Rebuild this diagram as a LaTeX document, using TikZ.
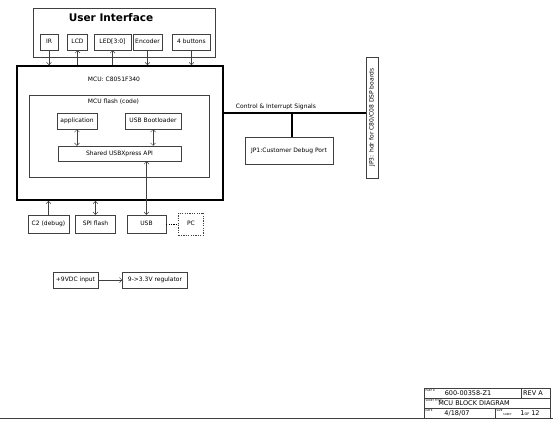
\documentclass[tikz,border=0pt]{standalone}
\usepackage{fontspec}
\setmainfont{DejaVu Sans}
\usetikzlibrary{positioning,arrows.meta}
\tikzset{
    blkframe/.style={draw=black!75, line width=0.5pt},
    blkbox/.style={draw=black!75, line width=0.5pt, inner sep=1pt, minimum height=16pt, text height=4.5pt, text depth=1.2pt, align=center, font=\fontsize{6}{7}\selectfont},
    blkpc/.style={blkbox, dash pattern=on 1.2pt off 1.2pt},
    blkmcu/.style={draw, line width=1.6pt},
    blklabel/.style={inner sep=0pt, font=\fontsize{6}{7}\selectfont},
    blktiny/.style={inner sep=0pt, anchor=north west, font=\fontsize{2.6}{3}\selectfont},
    blkcell/.style={inner sep=0pt, font=\fontsize{6.5}{8}\selectfont},
    blkarrow/.style={draw=black!75, line width=0.5pt, -{Straight Barb[length=2.5pt,width=5pt]}},
    blkboth/.style={draw=black!75, line width=0.5pt, {Straight Barb[length=2.5pt,width=5pt]}-{Straight Barb[length=2.5pt,width=5pt]}},
    blkbus/.style={draw, line width=1.4pt},
    blklink/.style={draw, line width=0.5pt, dash pattern=on 1.2pt off 1.2pt}
}
\begin{document}
\begin{tikzpicture}[x=1pt, y=-1pt]
    \useasboundingbox (0,0) rectangle (553,420);

    \node[blkframe, minimum width=182pt, minimum height=49pt] (ui) at (124,32.5) {};
    \node[font=\fontsize{10.5}{12}\selectfont\bfseries, inner sep=0pt] (uititle) at (111,18) {User Interface};
    \node[blkbox, minimum width=18pt] (ir) at (49,42) {IR};
    \node[blkbox, minimum width=20pt, right=9pt of ir] (lcd) {LCD};
    \node[blkbox, minimum width=37pt, right=6pt of lcd] (led) {LED[3:0]};
    \node[blkbox, minimum width=29pt, right=1.5pt of led] (enc) {Encoder};
    \node[blkbox, minimum width=38pt, right=10pt of enc] (btn) {4 buttons};

    \node[blkmcu, minimum width=206pt, minimum height=134pt] (mcu) at (120,133) {};
    \node[blklabel] (mculbl) at (114,79) {MCU: C8051F340};
    \node[blkframe, minimum width=180pt, minimum height=82pt] (flash) at (119,136) {};
    \node[blklabel] (flashlbl) at (113.5,102) {MCU flash (code)};
    \node[blkbox, minimum width=40pt] (app) at (77,121) {application};
    \node[blkbox, minimum width=56pt] (boot) at (153,121) {USB Bootloader};
    \node[blkbox, minimum width=123pt, minimum height=15pt] (api) at (119.5,153.5) {Shared USBXpress API};

    \node[blkbox, minimum width=41pt, minimum height=18pt] (c2) at (48.5,224) {C2 (debug)};
    \node[blkbox, minimum width=40pt, minimum height=18pt, right=6pt of c2] (spi) {SPI flash};
    \node[blkbox, minimum width=39pt, minimum height=18pt, right=11pt of spi] (usb) {USB};
    \node[blkpc, minimum width=25pt, minimum height=22pt, right=12pt of usb] (pc) {PC};

    \node[blkbox, minimum width=88pt, minimum height=27pt] (jp1) at (289,150.5) {JP1:Customer Debug Port};
    \node[blkbox, rotate=90, minimum width=121pt, minimum height=12pt] (jp3) at (372,117.5) {JP3: hdr for C80/C08 DSP boards};
    \coordinate (tap) at (292,113);
    \node[blklabel] (ctrllbl) at (276,106.5) {Control \& Interrupt Signals};

    \node[blkbox, minimum width=45pt] (vin) at (75.5,280) {+9VDC input};
    \node[blkbox, minimum width=65pt, right=24pt of vin] (reg) {9->3.3V regulator};

    \draw[blkarrow] (ir.south) -- (ir.south |- mcu.north);
    \draw[blkarrow] (lcd.south |- mcu.north) -- (lcd.south);
    \draw[blkarrow] (led.south |- mcu.north) -- (led.south);
    \draw[blkarrow] (enc.south) -- (enc.south |- mcu.north);
    \draw[blkarrow] (btn.south) -- (btn.south |- mcu.north);
    \draw[blkboth] (app.south) -- (app.south |- api.north);
    \draw[blkboth] (boot.south) -- (boot.south |- api.north);
    \draw[blkarrow] (c2.north) -- (c2.north |- mcu.south);
    \draw[blkboth] (spi.north) -- (spi.north |- mcu.south);
    \draw[blkboth] (usb.north) -- (usb.north |- api.south);
    \draw[blklink] (usb) -- (pc);
    \draw[blkbus] (mcu.east |- tap) -- (jp3.north |- tap);
    \draw[blkbus] (tap) -- (tap |- jp1.north);
    \draw[blkarrow] (vin) -- (reg);

    \draw[blkframe] (0,418) -- (553,418);
    \draw[blkframe] (424,388) rectangle (550,418);
    \draw[blkframe] (424,398) -- (550,398) (424,408) -- (550,408);
    \draw[blkframe] (521,388) -- (521,398) (495,408) -- (495,418);
    \node[blktiny] (partlbl) at (425.5,389) {PART \#};
    \node[blkcell] (partno) at (468,393.5) {600-00358-Z1};
    \node[blkcell, anchor=west] (rev) at (523,393.5) {REV A};
    \node[blktiny] (titlelbl) at (425.5,399) {SHEET TITLE};
    \node[blkcell] (title) at (474,403.5) {MCU BLOCK DIAGRAM};
    \node[blktiny] (datelbl) at (425.5,409) {DATE};
    \node[blkcell] (date) at (457,413.5) {4/18/07};
    \node[blktiny] (sizelbl) at (496.5,409) {SIZE};
    \node[blktiny] (sheetlbl) at (503,413) {SHEET};
    \node[blkcell] (sheet) at (530,413.5) {1{\fontsize{3.5}{4}\selectfont OF} 12};
\end{tikzpicture}
\end{document}
